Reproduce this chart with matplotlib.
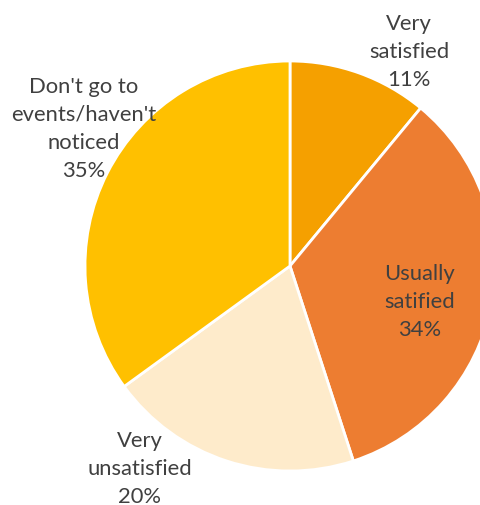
import matplotlib.pyplot as plt

# satisfaction with events
labels = ["Very\nsatisfied", "Usually\nsatified", "Very\nunsatisfied", "Don't go to\nevents/haven't\nnoticed"]
shares = [11, 34, 20, 35]
colors = ["#F5A000", "#ED7D31", "#FEEBCB", "#FFC000"]

# where each data label sits (pixels from top-left)
label_pos = [(409, 52), (420, 302), (140, 469), (84, 129)]

W, H = 481, 505
fig = plt.figure(figsize=(W / 100, H / 100), dpi=100)
ax = fig.add_axes([0, 0, 1, 1])

ax.pie(shares, colors=colors, startangle=90, counterclock=False,
       radius=205, center=(290, H - 266),
       wedgeprops=dict(edgecolor="white", linewidth=2))

# pie() resets the limits, so fix them afterwards
ax.set_xlim(0, W)
ax.set_ylim(0, H)
ax.set_aspect("equal")
ax.set_axis_off()

for lab, val, (x, y) in zip(labels, shares, label_pos):
    ax.text(x, H - y, f"{lab}\n{val}%", ha="center", va="center",
            fontsize=15.8, family="Lato", color="#404040", linespacing=1.52)

fig.savefig("out.png", dpi=100)
